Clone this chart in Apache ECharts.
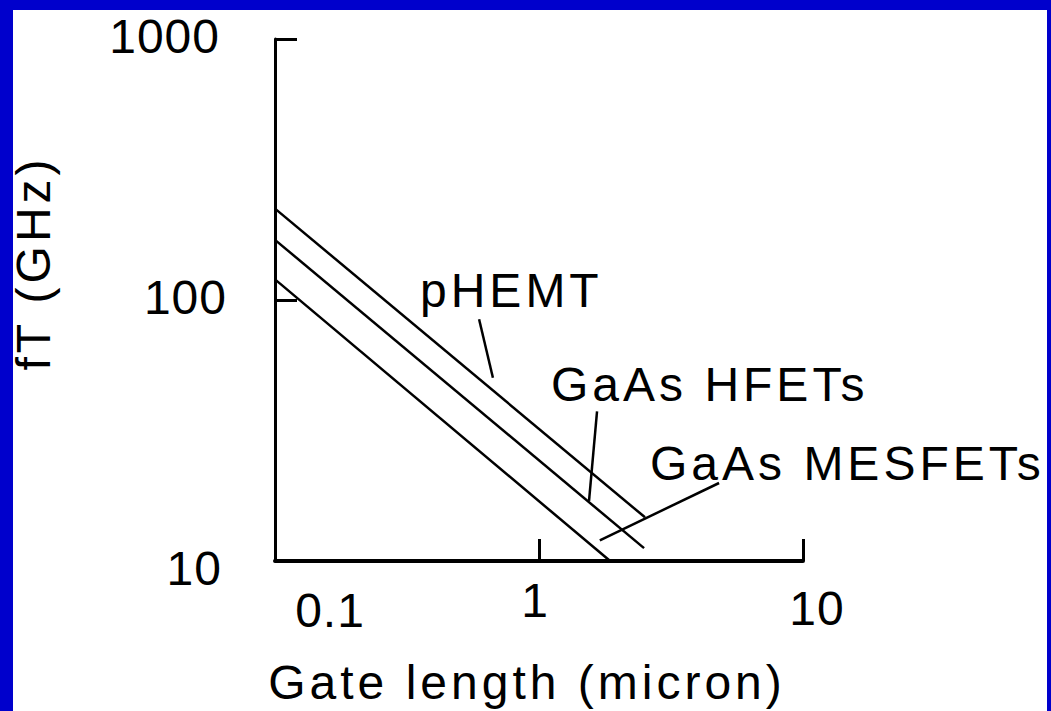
<!DOCTYPE html>
<html><head><meta charset="utf-8">
<script src="https://cdn.jsdelivr.net/npm/echarts@6/dist/echarts.min.js"></script>
<style>
html,body{margin:0;padding:0;width:1051px;height:711px;overflow:hidden;background:#0000CC;}
#panel{position:absolute;left:13px;top:10px;width:1034px;height:701px;background:#ffffff;}
#chart{position:absolute;left:0;top:0;width:1051px;height:711px;}
#chart text{letter-spacing:4px;}
#chart text.num{letter-spacing:1px;}
</style></head><body>
<div id="panel"></div><div id="chart"></div>
<script>
// ---- data ----
const xTicks = [0.1, 1, 10];
const yTicks = [10, 100, 1000];
const seriesNames = ['pHEMT', 'GaAs HFETs', 'GaAs MESFETs'];
const gateLength_pHEMT = [0.1, 2.52];
const fT_pHEMT = [224, 14.7];
const gateLength_HFET = [0.1, 2.50];
const fT_HFET = [170, 11.2];
const gateLength_MESFET = [0.1, 1.86];
const fT_MESFET = [120, 10];
// leader lines from each label to its curve
const leader_pHEMT_x = [0.593, 0.669];
const leader_pHEMT_y = [84.4, 50.4];
const leader_HFET_x = [1.659, 1.547];
const leader_HFET_y = [37.4, 17.0];
const leader_MESFET_x = [4.81, 1.70];
const leader_MESFET_y = [19.9, 12.0];

const FONT = '"Liberation Sans", Arial, sans-serif';
const zip = (a, b) => a.map((v, i) => [v, b[i]]);

const curves = [
  [gateLength_pHEMT, fT_pHEMT],
  [gateLength_HFET, fT_HFET],
  [gateLength_MESFET, fT_MESFET]
];
const leaders = [
  [leader_pHEMT_x, leader_pHEMT_y],
  [leader_HFET_x, leader_HFET_y],
  [leader_MESFET_x, leader_MESFET_y]
];

const series = [];
curves.forEach((c, i) => series.push({
  name: seriesNames[i], type: 'line', data: zip(c[0], c[1]),
  symbol: 'none', silent: true, lineStyle: { color: '#000', width: 2.5 }
}));
leaders.forEach((c, i) => series.push({
  name: seriesNames[i] + ' label', type: 'line', data: zip(c[0], c[1]),
  symbol: 'none', silent: true, lineStyle: { color: '#000', width: 2.5 }
}));

const t = { fontFamily: FONT, fontSize: 48, color: '#000' };
const xRich = {
  a: Object.assign({ padding: [10, 0, 0, 110] }, t),
  b: Object.assign({ padding: [0, 8, 0, 0] }, t),
  c: Object.assign({ padding: [8, 0, 0, 28] }, t)
};
const yRich = {
  f: Object.assign({ padding: [14, 5, 0, 0] }, t),
  e: Object.assign({ padding: [0, 0, 5, 0] }, t),
  d: Object.assign({ padding: [0, 7, 6, 0] }, t)
};

const chart = echarts.init(document.getElementById('chart'), null, { renderer: 'svg' });
chart.setOption({
  animation: false,
  backgroundColor: 'transparent',
  grid: { left: 275, right: 248, top: 39, bottom: 145 },
  xAxis: {
    type: 'log', logBase: 10, min: xTicks[0], max: xTicks[xTicks.length - 1],
    name: 'Gate length (micron)', nameLocation: 'middle', nameGap: 97,
    nameTextStyle: Object.assign({ padding: [0, 24, 0, 0] }, t),
    axisLine: { onZero: false, lineStyle: { color: '#000', width: 4 } },
    axisTick: { inside: true, length: 22, lineStyle: { color: '#000', width: 3 } },
    minorTick: { show: false }, splitLine: { show: false },
    axisLabel: {
      margin: 15, fontFamily: FONT, fontSize: 48, color: '#000',
      formatter: v => {
        const k = Math.round(Math.log10(v)) + 1;
        return '{' + ['a', 'b', 'c'][k] + '|' + xTicks[k] + '}';
      },
      rich: xRich
    }
  },
  yAxis: {
    type: 'log', logBase: 10, min: yTicks[0], max: yTicks[yTicks.length - 1],
    name: 'fT (GHz)', nameLocation: 'middle', nameRotate: 90, nameGap: 218,
    nameTextStyle: Object.assign({ padding: [0, 0, 0, 74] }, t),
    axisLine: { onZero: false, lineStyle: { color: '#000', width: 3 } },
    axisTick: { inside: true, length: 22, lineStyle: { color: '#000', width: 3 } },
    minorTick: { show: false }, splitLine: { show: false },
    axisLabel: {
      margin: 48, fontFamily: FONT, fontSize: 48, color: '#000',
      formatter: v => {
        const k = Math.round(Math.log10(v)) - 1;
        return '{' + ['f', 'e', 'd'][k] + '|' + yTicks[k] + '}';
      },
      rich: yRich
    }
  },
  graphic: [
    { type: 'text', x: 420, y: 290, silent: true,
      style: { text: seriesNames[0], font: '48px ' + FONT, fill: '#000', textAlign: 'left', textVerticalAlign: 'middle', align: 'left', verticalAlign: 'middle' } },
    { type: 'text', x: 551, y: 384, silent: true,
      style: { text: seriesNames[1], font: '48px ' + FONT, fill: '#000', textAlign: 'left', textVerticalAlign: 'middle', align: 'left', verticalAlign: 'middle' } },
    { type: 'text', x: 650, y: 463, silent: true,
      style: { text: seriesNames[2], font: '48px ' + FONT, fill: '#000', textAlign: 'left', textVerticalAlign: 'middle', align: 'left', verticalAlign: 'middle' } }
  ],
  series: series
});
function markNums() {
  document.querySelectorAll('#chart text').forEach(el => {
    if (/^[\d.]+$/.test(el.textContent.trim())) el.classList.add('num');
  });
}
chart.on('finished', markNums);
markNums();
</script>
</body></html>
